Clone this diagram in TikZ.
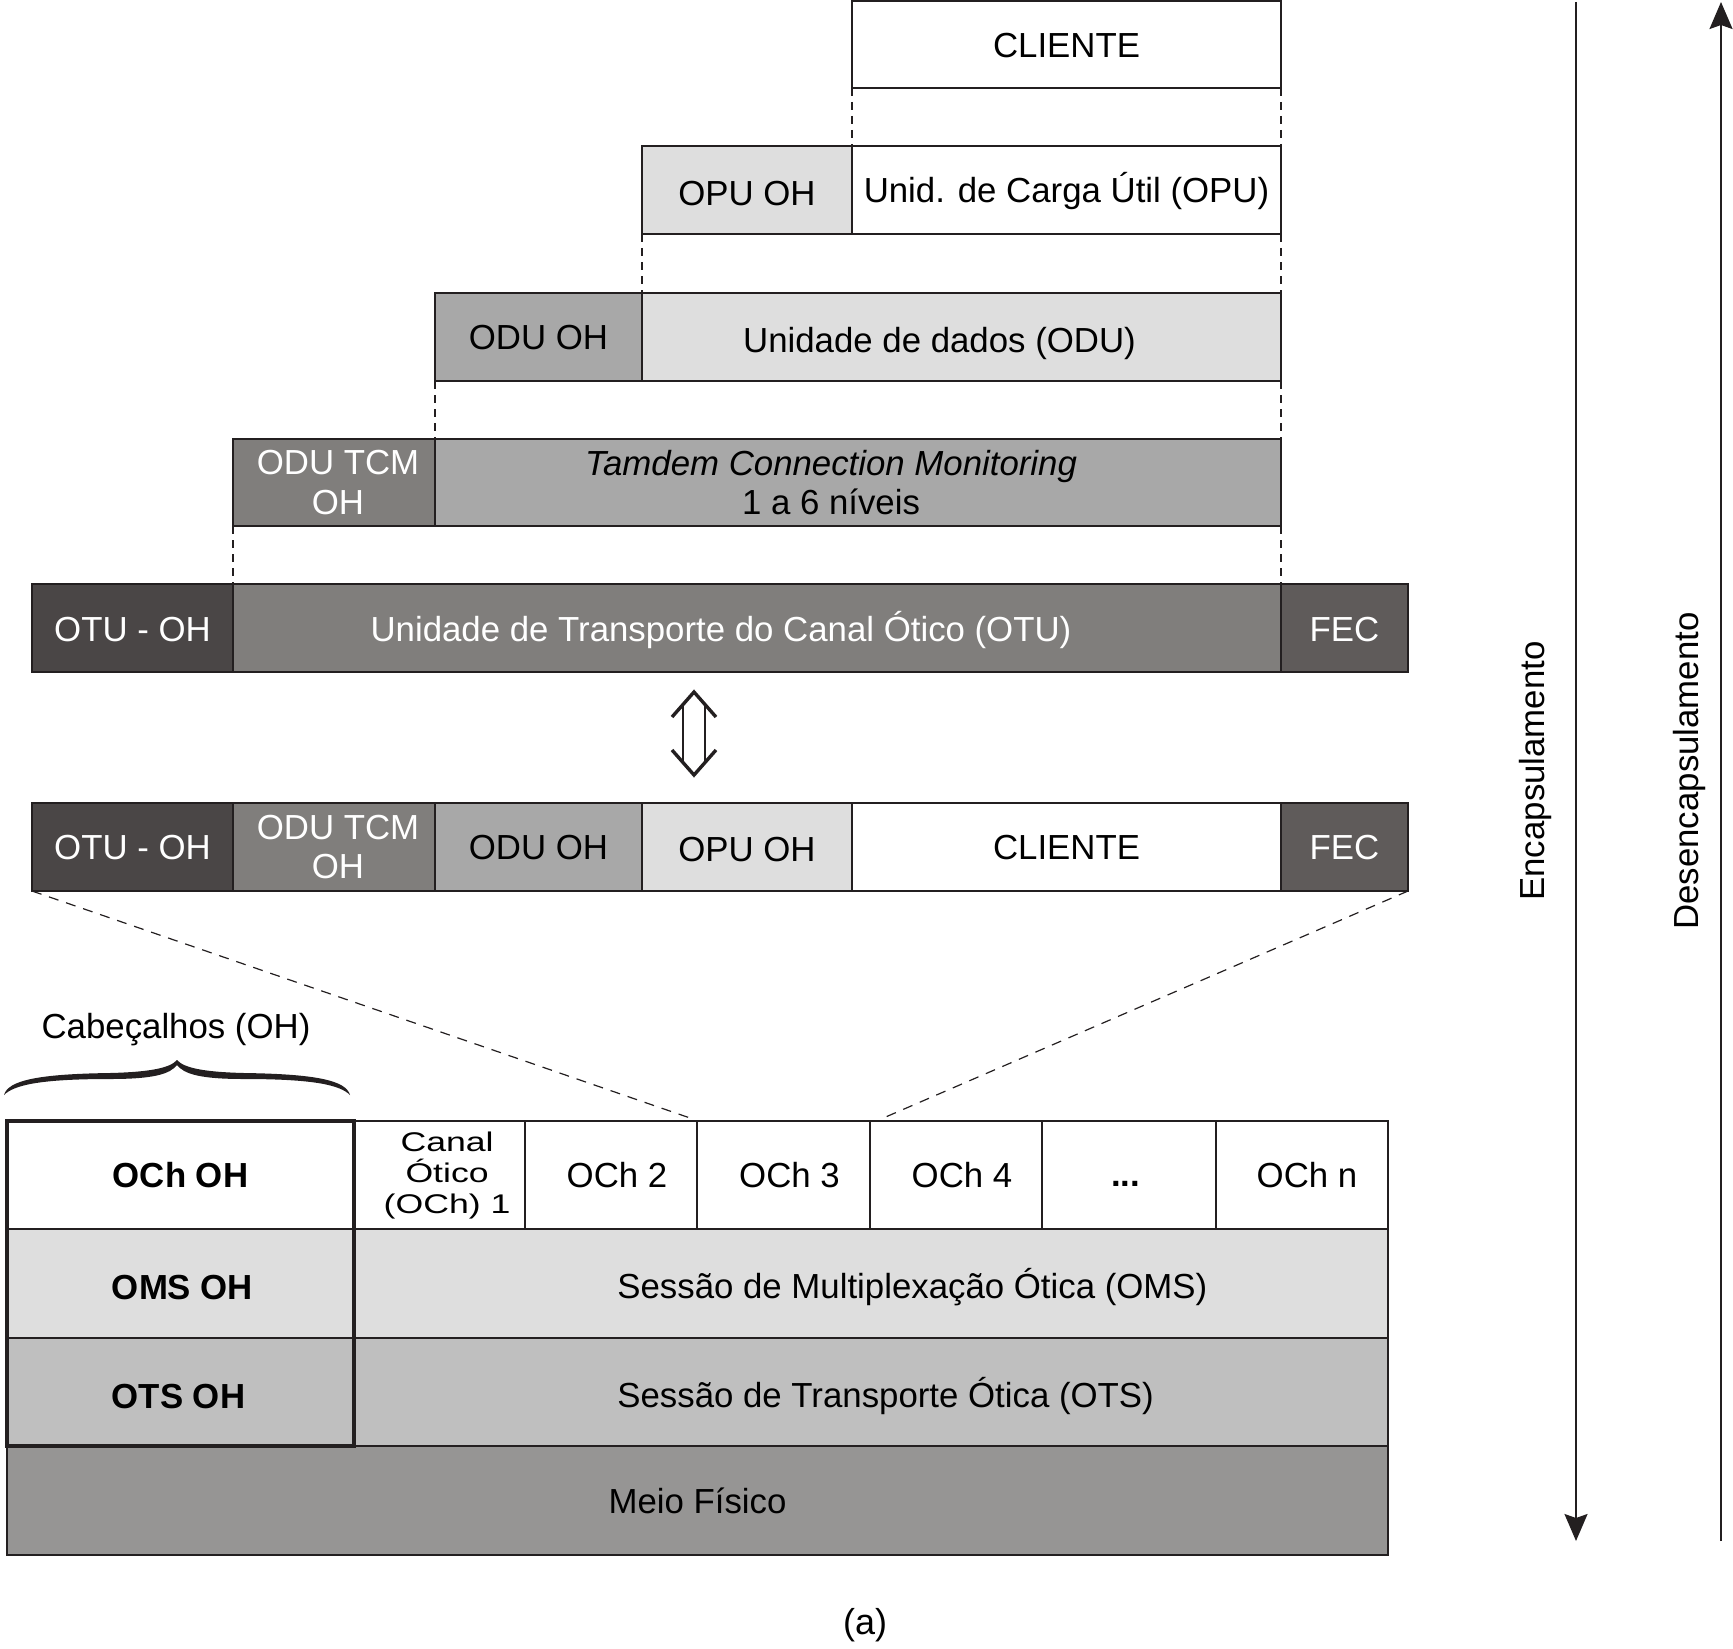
\documentclass[tikz,border=0pt]{standalone}
\usepackage{fontspec}
\setmainfont{Liberation Sans}
\newfontfamily\widefont[FakeStretch=1.32]{Liberation Sans}
\usetikzlibrary{arrows.meta}

\definecolor{edge}{HTML}{231F20}
\definecolor{cDark}{HTML}{4A4646}
\definecolor{cFec}{HTML}{5F5B5A}
\definecolor{cMid}{HTML}{807E7C}
\definecolor{cLight}{HTML}{A8A8A8}
\definecolor{cPale}{HTML}{DEDEDE}
\definecolor{cOts}{HTML}{BFBFBF}
\definecolor{cMeio}{HTML}{969594}

\tikzset{
  cell/.style={draw=edge, line width=1pt, rectangle, inner sep=0pt, outer sep=0pt},
  tcell/.style={line width=1.2pt},
  lbl/.style={inner sep=0pt, align=center, text=black, font=\fontsize{17.4}{19.8}\selectfont},
  vdash/.style={draw=edge, line width=0.8pt, dash pattern=on 4pt off 3pt},
  diag/.style={draw=edge, line width=0.6pt, dash pattern=on 5pt off 4pt},
  dirarrow/.style={draw=edge, line width=1pt, -{Stealth[length=13.5pt,width=11.5pt,inset=2pt]}},
  dblarrow/.style={draw=edge, line width=1.7pt, line join=miter, line cap=butt},
}

% [text options]{box options}{name}{x1}{y1}{x2}{y2}{fill}{text}
\newcommand\cellbox[9][]{%
  \node[cell, fill=#8, minimum width={(#6-#4)*0.5pt}, minimum height={(#7-#5)*0.5pt}, #2]
    (#3) at ({(#4+#6)/2},{(#5+#7)/2}) {};
  \node[lbl, #1] (#3-t) at (#3.center) {#9};}

\begin{document}
\begin{tikzpicture}[x=0.5pt, y=-0.5pt]
\useasboundingbox (0,0) rectangle (1733,1648);

% ---- stacked encapsulation rows ----
\cellbox[yshift=-0.5pt]{}{cliT}{852}{1}{1281}{88}{white}{CLIENTE}
\cellbox[yshift=-2pt]{}{opuoh}{642}{146}{852}{234}{cPale}{OPU OH}
\cellbox[yshift=-0.5pt]{}{opu}{852}{146}{1281}{234}{white}{Unid. de Carga Útil (OPU)}
\cellbox[yshift=-0.5pt]{}{oduoh}{435}{293}{642}{381}{cLight}{ODU OH}
\cellbox[xshift=-11pt, yshift=-3pt]{}{odu}{642}{293}{1281}{381}{cPale}{Unidade de dados (ODU)}
\cellbox[text=white, xshift=2pt]{}{tcmoh}{233}{439}{435}{526}{cMid}{ODU TCM\\OH}
\cellbox[xshift=-13.5pt]{}{tcm}{435}{439}{1281}{526}{cLight}{\textit{Tamdem Connection Monitoring}\\1 a 6 níveis}
\cellbox[text=white, yshift=-1pt]{}{otuoh}{32}{584}{233}{672}{cDark}{OTU - OH}
\cellbox[text=white, xshift=-18pt, yshift=-1pt]{}{otu}{233}{584}{1281}{672}{cMid}{Unidade de Transporte do Canal Ótico (OTU)}
\cellbox[text=white, yshift=-1pt]{}{fec}{1281}{584}{1408}{672}{cFec}{FEC}

% dashed guides
\draw[vdash] (cliT.south west) -- (opu.north west);
\draw[vdash] (cliT.south east) -- (opu.north east);
\draw[vdash] (opuoh.south west) -- (odu.north west);
\draw[vdash] (opu.south east) -- (odu.north east);
\draw[vdash] (oduoh.south west) -- (tcm.north west);
\draw[vdash] (odu.south east) -- (tcm.north east);
\draw[vdash] (tcmoh.south west) -- (otu.north west);
\draw[vdash] (tcm.south east) -- (otu.north east);

% ---- double arrow ----
\coordinate (da1) at (694,692);
\coordinate (da2) at (694,775);
\draw[dblarrow] (672,717) -- (da1) -- (716,717);
\draw[dblarrow] (672,750) -- (da2) -- (716,750);
\draw[dblarrow, line width=1.3pt] (683,704) -- (683,763);
\draw[dblarrow, line width=1.3pt] (705,704) -- (705,763);

% ---- full frame ----
\cellbox[text=white, yshift=-0.5pt]{}{botuoh}{32}{803}{233}{891}{cDark}{OTU - OH}
\cellbox[text=white, xshift=2pt]{}{btcm}{233}{803}{435}{891}{cMid}{ODU TCM\\OH}
\cellbox[yshift=-0.5pt]{}{boduoh}{435}{803}{642}{891}{cLight}{ODU OH}
\cellbox[yshift=-1.5pt]{}{bopuoh}{642}{803}{852}{891}{cPale}{OPU OH}
\cellbox[yshift=-0.5pt]{}{bcli}{852}{803}{1281}{891}{white}{CLIENTE}
\cellbox[text=white, yshift=-0.5pt]{}{bfec}{1281}{803}{1408}{891}{cFec}{FEC}

\coordinate (dl) at (693,1119);
\coordinate (dr) at (881,1119);
\draw[diag] (botuoh.south west) -- (dl);
\draw[diag] (bfec.south east) -- (dr);

% ---- brace + label ----
\node[lbl] (cab) at (176,1030) {Cabeçalhos (OH)};
\fill[edge] (4,1095) .. controls (8,1080) and (40,1074) .. (110,1073)
  .. controls (150,1072) and (170,1068) .. (177,1060)
  .. controls (184,1068) and (204,1072) .. (244,1073)
  .. controls (314,1074) and (346,1080) .. (350,1095)
  .. controls (340,1085) and (314,1079) .. (244,1079)
  .. controls (200,1079) and (184,1074) .. (177,1065)
  .. controls (170,1074) and (154,1079) .. (110,1079)
  .. controls (40,1079) and (14,1085) .. (4,1095) -- cycle;

% ---- optical layers table ----
\cellbox[font=\fontsize{17.4}{19.8}\selectfont\bfseries]{tcell}{ochoh}{7}{1121}{354}{1229}{white}{OCh OH}
\cellbox[font=\widefont\fontsize{13.5}{15.5}\selectfont, xshift=3.8pt]{tcell}{och1}{354}{1121}{525}{1229}{white}{Canal\\Ótico\\(OCh) 1}
\cellbox[xshift=3pt]{tcell}{och2}{525}{1121}{697}{1229}{white}{OCh 2}
\cellbox[xshift=3pt]{tcell}{och3}{697}{1121}{870}{1229}{white}{OCh 3}
\cellbox[xshift=3pt]{tcell}{och4}{870}{1121}{1042}{1229}{white}{OCh 4}
\cellbox[font=\fontsize{17.4}{19.8}\selectfont\bfseries, xshift=-1.6pt]{tcell}{ochd}{1042}{1121}{1216}{1229}{white}{\vphantom{O}...}
\cellbox[xshift=2.5pt]{tcell}{ochn}{1216}{1121}{1388}{1229}{white}{OCh n}
\cellbox[font=\fontsize{17.4}{19.8}\selectfont\bfseries, xshift=1pt, yshift=-2.2pt]{tcell}{omsoh}{7}{1229}{354}{1338}{cPale}{OMS OH}
\cellbox[anchor=west, xshift=-127pt, yshift=-2pt]{tcell}{oms}{354}{1229}{1388}{1338}{cPale}{Sessão de Multiplexação Ótica (OMS)}
\cellbox[font=\fontsize{17.4}{19.8}\selectfont\bfseries, xshift=-1pt, yshift=-2.2pt]{tcell}{otsoh}{7}{1338}{354}{1446}{cOts}{OTS OH}
\cellbox[anchor=west, xshift=-127pt, yshift=-2pt]{tcell}{ots}{354}{1338}{1388}{1446}{cOts}{Sessão de Transporte Ótica (OTS)}
\cellbox{tcell}{meio}{7}{1446}{1388}{1555}{cMeio}{Meio Físico}
\draw[edge, line width=2.4pt] (ochoh.north west) rectangle (otsoh.south east);

% ---- direction arrows ----
\coordinate (encTop) at (1576,2);
\coordinate (encBot) at (1576,1541);
\coordinate (desBot) at (1721,1541);
\coordinate (desTop) at (1721,2);
\draw[dirarrow] (encTop) -- (encBot);
\draw[dirarrow] (desBot) -- (desTop);
\node[lbl, rotate=90] (enc) at (1535,771) {Encapsulamento};
\node[lbl, rotate=90] (desenc) at (1689,771) {Desencapsulamento};

% ---- caption ----
\node[lbl, font=\fontsize{18}{21}\selectfont] (cap) at (865,1625) {(a)};
\end{tikzpicture}
\end{document}
